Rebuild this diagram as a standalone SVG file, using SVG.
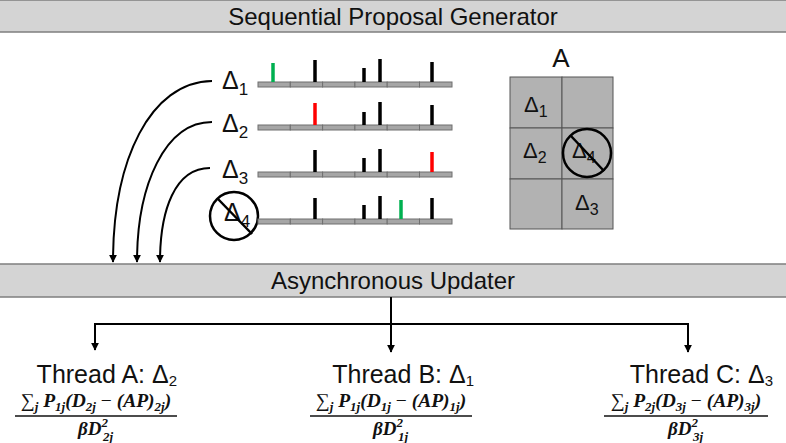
<svg xmlns="http://www.w3.org/2000/svg" width="786" height="443" viewBox="0 0 786 443">
<defs>
<marker id="ah" viewBox="0 0 10 10" refX="9" refY="5" markerWidth="8" markerHeight="8" markerUnits="userSpaceOnUse" orient="auto">
<path d="M0,0 L10,5 L0,10 z" fill="#000"/>
</marker>
</defs>
<style>
.bar{fill:#d4d4d4;stroke:#7f7f7f;stroke-width:1.5}
.title{font-family:"Liberation Sans",Arial,sans-serif;font-size:24px;fill:#111;text-anchor:middle}
.lbl{font-family:"Liberation Sans",Arial,sans-serif;fill:#111}
.seg{fill:#a6a6a6;stroke:#6f6f6f;stroke-width:1}
.tick{stroke:#000;stroke-width:3.5}
.g{stroke:#00b050;stroke-width:3.5}
.r{stroke:#ff0000;stroke-width:3.5}
.cell{fill:#b2b2b2;stroke:#555;stroke-width:1}
.no{fill:none;stroke:#000;stroke-width:2.5}
.conn{fill:none;stroke:#000;stroke-width:2}
.math{font-family:"Liberation Serif","Times New Roman",serif;font-weight:bold;font-style:italic;fill:#111}
.fl{stroke:#111;stroke-width:1.5}
</style>

<g id="generator">
<rect class="bar" x="-2" y="0" width="790" height="32"/>
<text class="title" x="393" y="25">Sequential Proposal Generator</text>
</g>

<g id="row1">
<text class="lbl" x="222" y="89" font-size="25">Δ<tspan font-size="17" dy="6">1</tspan></text>
<g transform="translate(0,82)">
<rect class="seg" x="258" y="0" width="32.3" height="5"/><rect class="seg" x="290.3" y="0" width="32.3" height="5"/><rect class="seg" x="322.6" y="0" width="32.3" height="5"/><rect class="seg" x="354.9" y="0" width="32.3" height="5"/><rect class="seg" x="387.2" y="0" width="32.3" height="5"/><rect class="seg" x="419.5" y="0" width="32.5" height="5"/>
</g>
<line class="g" x1="273" y1="63" x2="273" y2="82"/>
<line class="tick" x1="315" y1="60" x2="315" y2="82"/>
<line class="tick" x1="364" y1="68" x2="364" y2="82"/>
<line class="tick" x1="380" y1="59" x2="380" y2="82"/>
<line class="tick" x1="432" y1="62" x2="432" y2="82"/>
</g>

<g id="row2">
<text class="lbl" x="222" y="132" font-size="25">Δ<tspan font-size="17" dy="6">2</tspan></text>
<g transform="translate(0,125)">
<rect class="seg" x="258" y="0" width="32.3" height="5"/><rect class="seg" x="290.3" y="0" width="32.3" height="5"/><rect class="seg" x="322.6" y="0" width="32.3" height="5"/><rect class="seg" x="354.9" y="0" width="32.3" height="5"/><rect class="seg" x="387.2" y="0" width="32.3" height="5"/><rect class="seg" x="419.5" y="0" width="32.5" height="5"/>
</g>
<line class="r" x1="315" y1="103" x2="315" y2="125"/>
<line class="tick" x1="364" y1="112" x2="364" y2="125"/>
<line class="tick" x1="380" y1="102" x2="380" y2="125"/>
<line class="tick" x1="432" y1="105" x2="432" y2="125"/>
</g>

<g id="row3">
<text class="lbl" x="222" y="178" font-size="25">Δ<tspan font-size="17" dy="6">3</tspan></text>
<g transform="translate(0,172)">
<rect class="seg" x="258" y="0" width="32.3" height="5"/><rect class="seg" x="290.3" y="0" width="32.3" height="5"/><rect class="seg" x="322.6" y="0" width="32.3" height="5"/><rect class="seg" x="354.9" y="0" width="32.3" height="5"/><rect class="seg" x="387.2" y="0" width="32.3" height="5"/><rect class="seg" x="419.5" y="0" width="32.5" height="5"/>
</g>
<line class="tick" x1="315" y1="150" x2="315" y2="172"/>
<line class="tick" x1="364" y1="158" x2="364" y2="172"/>
<line class="tick" x1="380" y1="149" x2="380" y2="172"/>
<line class="r" x1="432" y1="152" x2="432" y2="172"/>
</g>

<g id="row4">
<text class="lbl" x="224" y="221" font-size="25">Δ<tspan font-size="17" dy="6">4</tspan></text>
<circle class="no" cx="234" cy="216" r="24"/>
<line class="no" x1="218" y1="199" x2="252" y2="234"/>
<g transform="translate(0,219)">
<rect class="seg" x="258" y="0" width="32.3" height="5"/><rect class="seg" x="290.3" y="0" width="32.3" height="5"/><rect class="seg" x="322.6" y="0" width="32.3" height="5"/><rect class="seg" x="354.9" y="0" width="32.3" height="5"/><rect class="seg" x="387.2" y="0" width="32.3" height="5"/><rect class="seg" x="419.5" y="0" width="32.5" height="5"/>
</g>
<line class="tick" x1="315" y1="198" x2="315" y2="219"/>
<line class="tick" x1="364" y1="205" x2="364" y2="219"/>
<line class="tick" x1="380" y1="196" x2="380" y2="219"/>
<line class="g" x1="401" y1="200" x2="401" y2="219"/>
<line class="tick" x1="432" y1="198" x2="432" y2="219"/>
</g>

<g id="matrixA">
<text class="lbl" x="561" y="67" font-size="26" text-anchor="middle">A</text>
<rect class="cell" x="510" y="77" width="52" height="51"/>
<rect class="cell" x="562" y="77" width="51" height="51"/>
<rect class="cell" x="510" y="128" width="52" height="51"/>
<rect class="cell" x="562" y="128" width="51" height="51"/>
<rect class="cell" x="510" y="179" width="52" height="50"/>
<rect class="cell" x="562" y="179" width="51" height="50"/>
<text class="lbl" x="524" y="112" font-size="22">Δ<tspan font-size="16" dy="5">1</tspan></text>
<text class="lbl" x="523" y="158" font-size="22">Δ<tspan font-size="16" dy="5">2</tspan></text>
<text class="lbl" x="572" y="158" font-size="22">Δ<tspan font-size="16" dy="5">4</tspan></text>
<circle class="no" cx="587" cy="153" r="24"/>
<line class="no" x1="571" y1="136" x2="604" y2="171"/>
<text class="lbl" x="575" y="210" font-size="22">Δ<tspan font-size="16" dy="5">3</tspan></text>
</g>

<g id="updater">
<rect class="bar" x="-2" y="264" width="790" height="33"/>
<text class="title" x="393" y="289">Asynchronous Updater</text>
</g>

<g id="connectors">
<path class="conn" d="M212,81 C150,82 113,160 113,262" marker-end="url(#ah)"/>
<path class="conn" d="M212,122 C165,122 137,185 137,262" marker-end="url(#ah)"/>
<path class="conn" d="M210,168 C175,168 160,210 160,262" marker-end="url(#ah)"/>
<path class="conn" d="M391,297 L391,352" marker-end="url(#ah)"/>
<path class="conn" d="M95,350 L95,324 L688,324 L688,352" marker-end="url(#ah)"/>
<path class="conn" d="M95,324 L95,350" marker-end="url(#ah)"/>
</g>

<g id="threadA">
<text class="lbl" x="177" y="383" font-size="25" text-anchor="end">Thread A: Δ<tspan font-size="15" dy="3">2</tspan></text>
<text class="math" x="96" y="407" font-size="19.5" text-anchor="middle"><tspan font-style="normal" font-weight="normal">∑</tspan><tspan font-size="13" dy="4">j</tspan><tspan dy="-4"> P</tspan><tspan font-size="13" dy="4">1j</tspan><tspan dy="-4">(D</tspan><tspan font-size="13" dy="4">2j</tspan><tspan dy="-4"> <tspan font-style="normal" font-weight="normal">−</tspan> (AP)</tspan><tspan font-size="13" dy="4">2j</tspan><tspan dy="-4">)</tspan></text>
<line class="fl" x1="15" y1="416" x2="177" y2="416"/>
<text class="math" x="78" y="435" font-size="19">βD<tspan font-size="13" dy="-8">2</tspan><tspan font-size="13" x="103" dy="14">2j</tspan></text>
</g>

<g id="threadB">
<text class="lbl" x="474" y="383" font-size="25" text-anchor="end">Thread B: Δ<tspan font-size="15" dy="3">1</tspan></text>
<text class="math" x="391" y="407" font-size="19.5" text-anchor="middle"><tspan font-style="normal" font-weight="normal">∑</tspan><tspan font-size="13" dy="4">j</tspan><tspan dy="-4"> P</tspan><tspan font-size="13" dy="4">1j</tspan><tspan dy="-4">(D</tspan><tspan font-size="13" dy="4">1j</tspan><tspan dy="-4"> <tspan font-style="normal" font-weight="normal">−</tspan> (AP)</tspan><tspan font-size="13" dy="4">1j</tspan><tspan dy="-4">)</tspan></text>
<line class="fl" x1="310" y1="416" x2="472" y2="416"/>
<text class="math" x="373" y="435" font-size="19">βD<tspan font-size="13" dy="-8">2</tspan><tspan font-size="13" x="398" dy="14">1j</tspan></text>
</g>

<g id="threadC">
<text class="lbl" x="773" y="383" font-size="25" text-anchor="end">Thread C: Δ<tspan font-size="15" dy="3">3</tspan></text>
<text class="math" x="686" y="407" font-size="19.5" text-anchor="middle"><tspan font-style="normal" font-weight="normal">∑</tspan><tspan font-size="13" dy="4">j</tspan><tspan dy="-4"> P</tspan><tspan font-size="13" dy="4">2j</tspan><tspan dy="-4">(D</tspan><tspan font-size="13" dy="4">3j</tspan><tspan dy="-4"> <tspan font-style="normal" font-weight="normal">−</tspan> (AP)</tspan><tspan font-size="13" dy="4">3j</tspan><tspan dy="-4">)</tspan></text>
<line class="fl" x1="604" y1="416" x2="768" y2="416"/>
<text class="math" x="668" y="435" font-size="19">βD<tspan font-size="13" dy="-8">2</tspan><tspan font-size="13" x="693" dy="14">3j</tspan></text>
</g>
</svg>
